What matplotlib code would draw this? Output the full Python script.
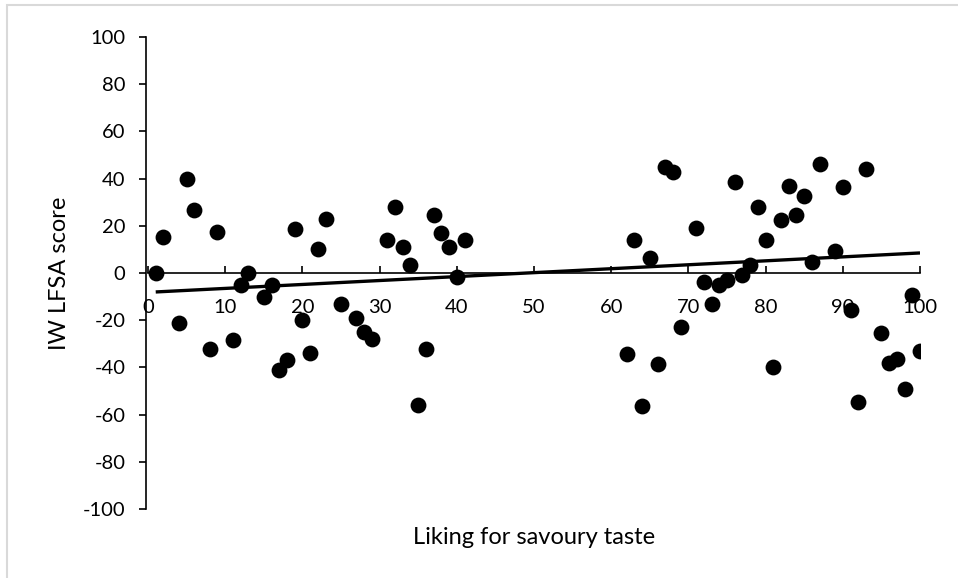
import matplotlib
matplotlib.use("Agg")
import matplotlib.pyplot as plt
from matplotlib.patches import Rectangle
import numpy as np

plt.rcParams['font.family'] = ['Lato', 'DejaVu Sans']
plt.rcParams['axes.unicode_minus'] = False

liking = [1, 2, 4, 5, 6, 8, 9, 11, 12, 13, 15, 16, 17, 18, 19, 20, 21, 22, 23, 25,
          27, 28, 29, 31, 32, 33, 34, 35, 36, 37, 38, 39, 40, 41,
          62, 63, 64, 65, 66, 67, 68, 69, 71, 72, 73, 74, 75, 76, 77, 78, 79, 80,
          81, 82, 83, 84, 85, 86, 87, 89, 90, 91, 92, 93, 95, 96, 97, 98, 99, 100]
lfsa = [0, 15.3, -21, 40, 26.5, -32, 17.5, -28.5, -5, 0, -10, -5, -41, -37, 18.5, -20, -34, 10, 23, -13,
        -19, -25, -28, 14, 28, 11, 3.5, -56, -32, 24.5, 17, 11, -1.5, 14,
        -34.5, 14, -56.5, 6.5, -38.5, 45, 43, -23, 19, -4, -13, -5, -3, 38.5, -1, 3.5, 28, 14,
        -40, 22.5, 37, 24.5, 32.5, 4.5, 46, 9.5, 36.5, -15.5, -54.5, 44, -25.5, -38, -36.5, -49, -9.5, -33]

# linear trendline as drawn in the original chart
trend_intercept = -8.2
trend_slope = 0.167
trend_x_range = [1, 100]

x_ticks = list(range(0, 101, 10))
y_ticks = list(range(-100, 101, 20))

fig = plt.figure(figsize=(9.58, 5.78), dpi=100)
fig.patches.append(Rectangle((7/958, -0.1), 1.2, 1 - 5/578 + 0.1, transform=fig.transFigure,
                             fill=False, edgecolor='#d9d9d9', linewidth=1.5, zorder=0))
ax = fig.add_axes([148/958, 1 - 509/578, 772/958, 472/578])

ax.scatter(liking, lfsa, s=130, color='black', zorder=3, linewidths=0)

xl = np.array(trend_x_range, dtype=float)
ax.plot(xl, trend_slope * xl + trend_intercept, color='black', linewidth=2.4, zorder=4,
        solid_capstyle='butt')

ax.set_xlim(0, 100)
ax.set_ylim(-100, 100)
ax.set_xticks(x_ticks)
ax.set_yticks(y_ticks)

for s in ['top', 'right']:
    ax.spines[s].set_visible(False)
ax.spines['bottom'].set_position(('data', 0))
ax.spines['bottom'].set_linewidth(1.2)
ax.spines['left'].set_linewidth(1.2)
ax.spines['left'].set_position(('data', -0.2))

ax.tick_params(axis='y', direction='out', length=5, width=1.2, labelsize=14.5, pad=10)
ax.tick_params(axis='x', direction='in', length=5, width=1.2, labelsize=14.5, pad=19)

ax.set_ylabel('IW LFSA score', fontsize=17, va='center', ha='center')
ax.yaxis.set_label_coords(-0.114, 0.5)
ax.set_xlabel('Liking for savoury taste', fontsize=17, va='center', ha='center')
ax.xaxis.set_label_coords(0.5, -0.061)

fig.savefig('out.png', dpi=100)
